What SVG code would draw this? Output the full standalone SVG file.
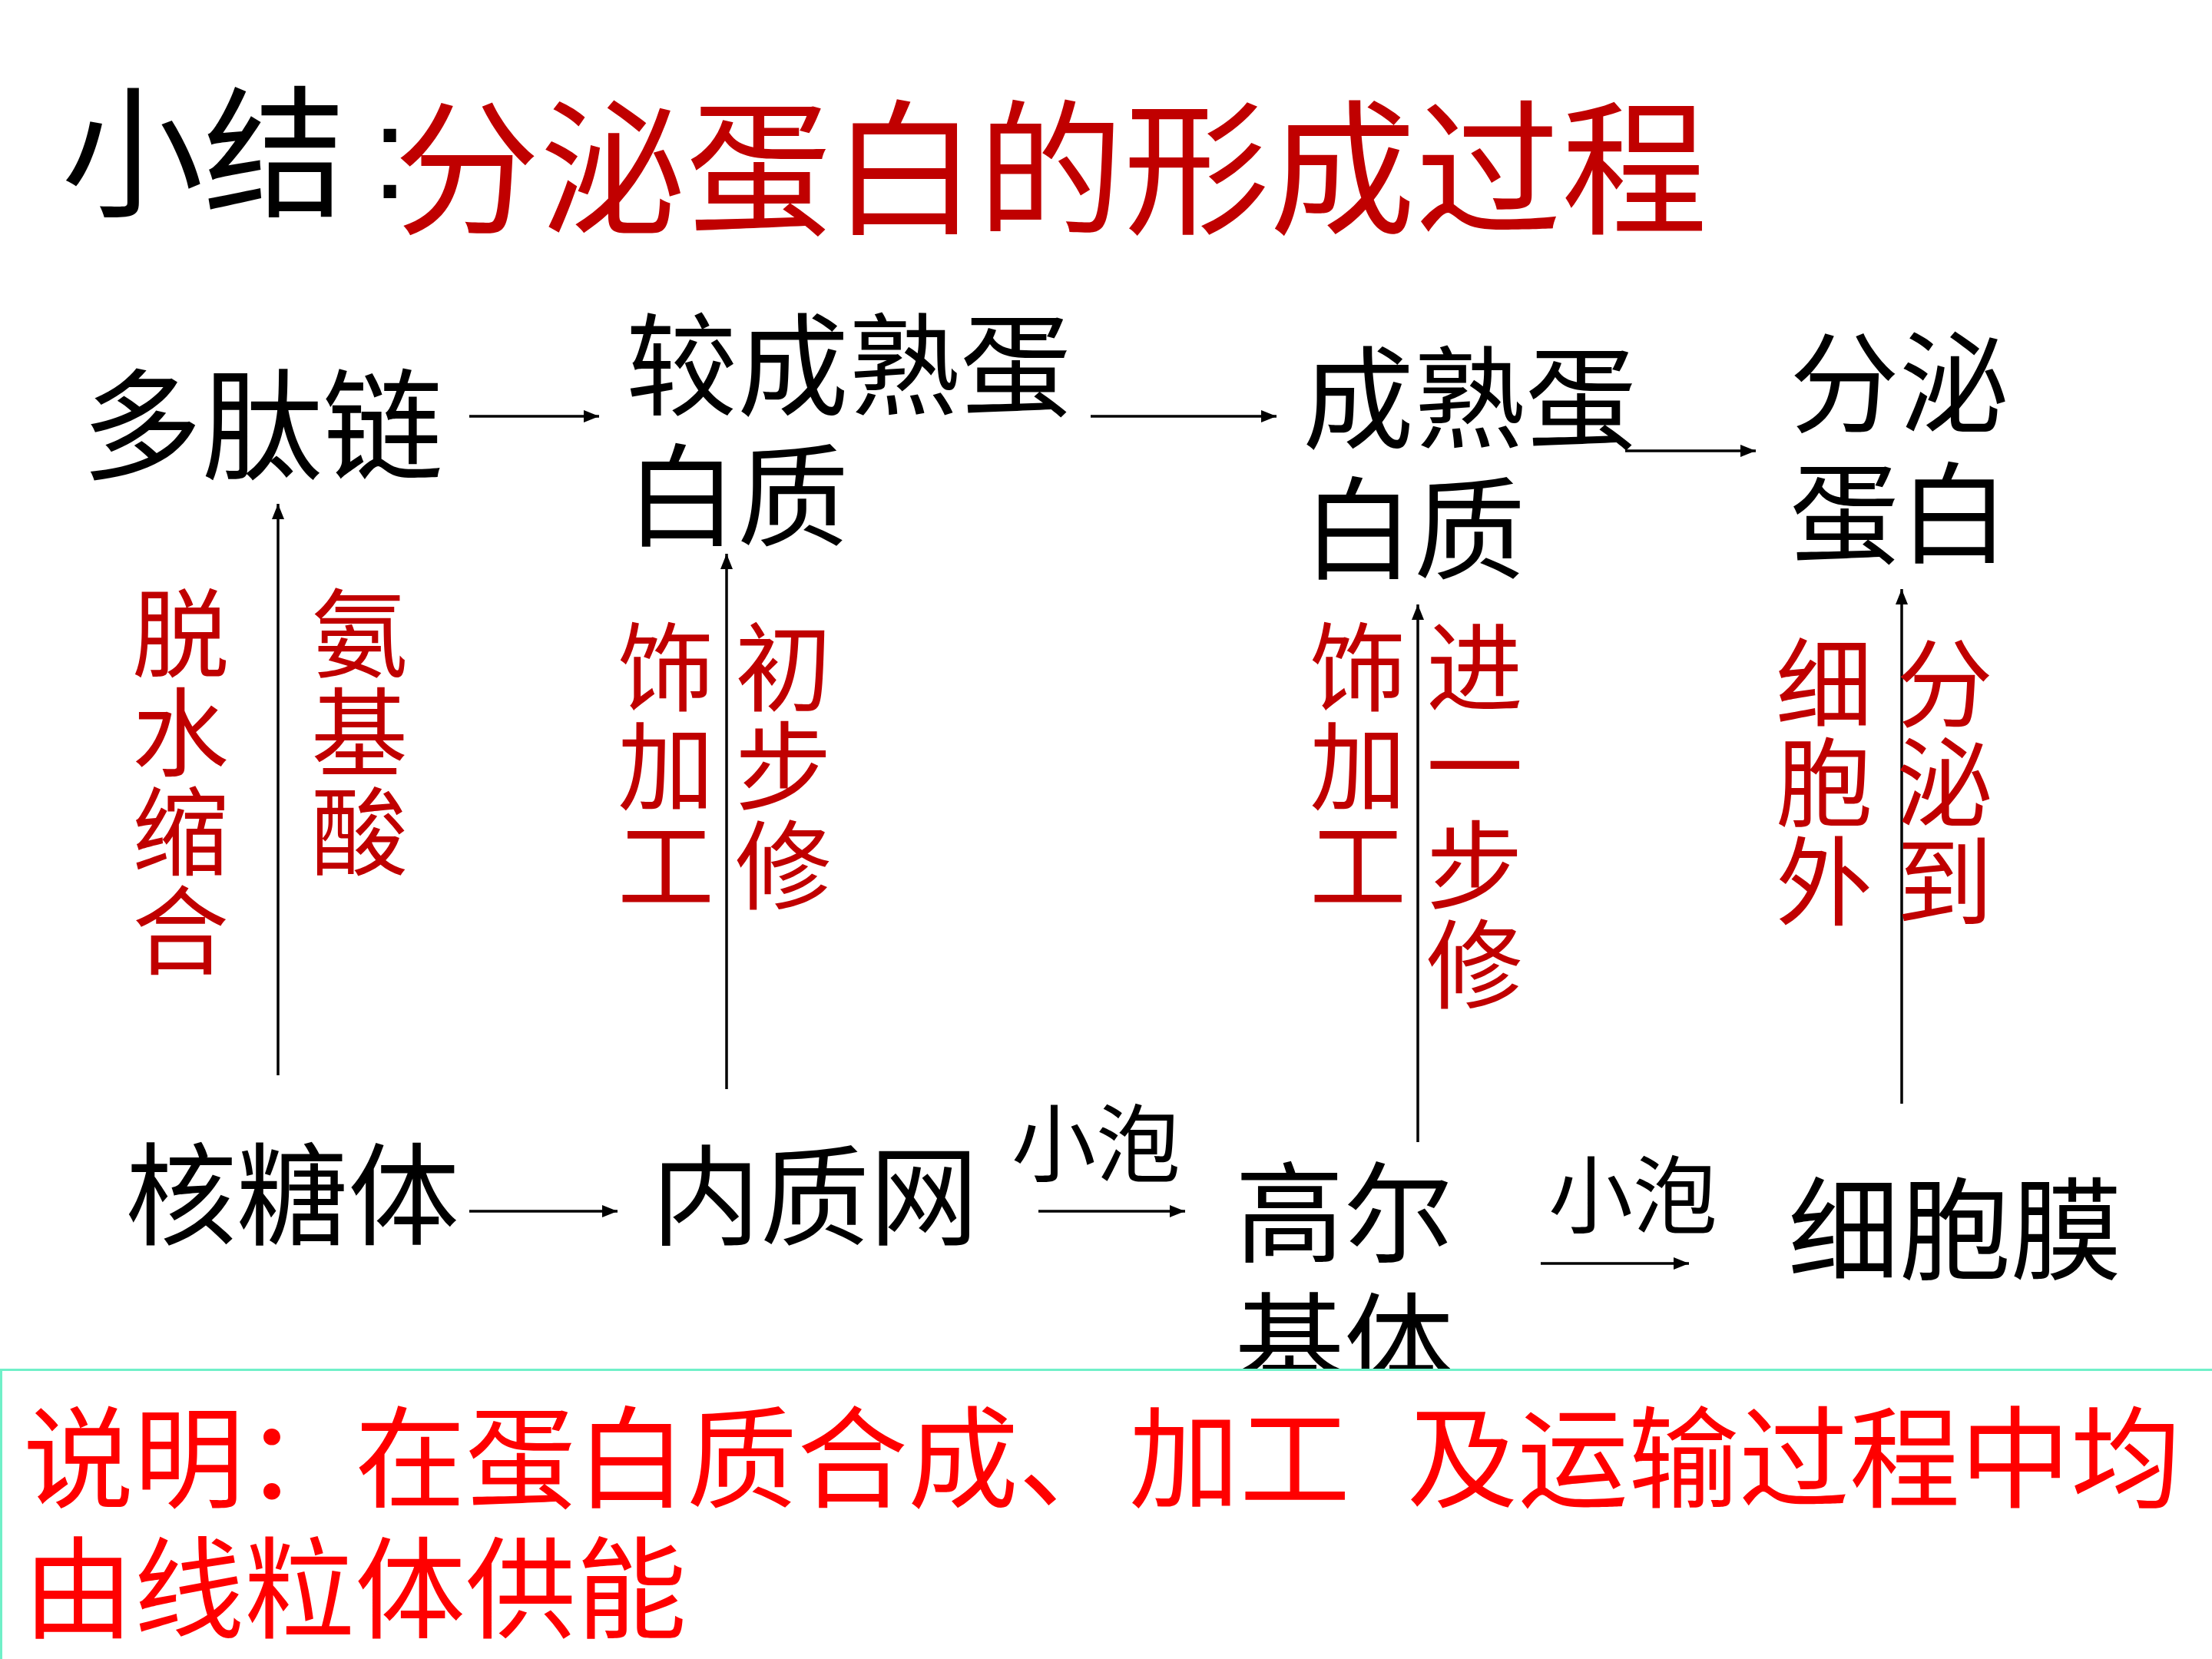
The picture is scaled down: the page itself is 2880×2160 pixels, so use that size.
<svg xmlns="http://www.w3.org/2000/svg" width="2880" height="2160" viewBox="0 0 2880 2160">
<style>
.t{font-family:"Noto Sans CJK SC","Noto Sans CJK JP",sans-serif}
.k{fill:#000}
.r{fill:#C00000}
.b{fill:#FF0000}
.v{font-size:126px;fill:#C00000;font-family:"Noto Sans CJK SC","Noto Sans CJK JP",sans-serif;writing-mode:vertical-rl;text-orientation:upright;letter-spacing:3px}
.c{stroke:#000;stroke-width:3.5;fill:none}
</style>
<defs>
<marker id="ah" markerWidth="20" markerHeight="16" refX="20" refY="8" orient="auto" markerUnits="userSpaceOnUse">
<path d="M0,0 L20,8 L0,16 z" fill="#000"/>
</marker>
</defs>
<rect width="2880" height="2160" fill="#fff"/>

<g id="title">
<text class="t k" x="80" y="268" font-size="185">小结<tspan x="484" y="258" font-size="170" letter-spacing="-18" font-family="Liberation Sans, sans-serif">:</tspan><tspan class="r" x="513" y="290" font-size="190" font-family="Noto Sans CJK SC, Noto Sans CJK JP, sans-serif">分泌蛋白的形成过程</tspan></text>
</g>

<g id="node-polypeptide"><text class="t k" x="106" y="612" font-size="157">多肽链</text></g>
<g id="node-immature"><text class="t k" x="815" y="530" font-size="145">较成熟蛋<tspan x="815" y="700">白质</tspan></text></g>
<g id="node-mature"><text class="t k" x="1696" y="573" font-size="145">成熟蛋<tspan x="1696" y="743">白质</tspan></text></g>
<g id="node-secreted"><text class="t k" x="2330" y="552" font-size="143">分泌<tspan x="2330" y="722">蛋白</tspan></text></g>

<g id="node-ribosome"><text class="t k" x="163" y="1610" font-size="145">核糖体</text></g>
<g id="node-er"><text class="t k" x="848" y="1610" font-size="142">内质网</text></g>
<g id="node-golgi"><text class="t k" x="1608" y="1632" font-size="142">高尔<tspan x="1608" y="1802">基体</tspan></text></g>
<g id="node-membrane"><text class="t k" x="2328" y="1655" font-size="145">细胞膜</text></g>

<g id="connectors">
<line class="c" x1="611" y1="542" x2="780" y2="542" marker-end="url(#ah)"/>
<line class="c" x1="1420" y1="542" x2="1662" y2="542" marker-end="url(#ah)"/>
<line class="c" x1="2116" y1="587" x2="2286" y2="587" marker-end="url(#ah)"/>
<line class="c" x1="611" y1="1577" x2="804" y2="1577" marker-end="url(#ah)"/>
<line class="c" x1="1352" y1="1577" x2="1543" y2="1577" marker-end="url(#ah)"/>
<line class="c" x1="2006" y1="1645" x2="2199" y2="1645" marker-end="url(#ah)"/>
<line class="c" x1="362" y1="1400" x2="362" y2="656" marker-end="url(#ah)"/>
<line class="c" x1="946" y1="1418" x2="946" y2="721" marker-end="url(#ah)"/>
<line class="c" x1="1846" y1="1487" x2="1846" y2="787" marker-end="url(#ah)"/>
<line class="c" x1="2476" y1="1437" x2="2476" y2="767" marker-end="url(#ah)"/>
<text class="t k" x="1317" y="1530" font-size="110">小泡</text>
<text class="t k" x="2016" y="1597" font-size="110">小泡</text>
</g>

<g id="labels">
<text class="v" x="235" y="761">脱水缩合</text>
<text class="v" x="468" y="761">氨基酸</text>
<text class="v" x="867" y="805">饰加工</text>
<text class="v" x="1020" y="805">初步修</text>
<text class="v" x="1768" y="805">饰加工</text>
<text class="v" x="1920" y="805">进一步修</text>
<text class="v" x="2375" y="826">细胞外</text>
<text class="v" x="2532" y="826">分泌到</text>
</g>

<g id="note">
<rect x="1.5" y="1783.5" width="2900" height="500" fill="#fff" stroke="#70F0C8" stroke-width="3"/>
<text class="t b" x="30" y="1952" font-size="144">说明：在蛋白质合成、加工<tspan x="1832" y="1952">及运输过程中均</tspan><tspan x="30" y="2122">由线粒体供能</tspan></text>
</g>
</svg>
